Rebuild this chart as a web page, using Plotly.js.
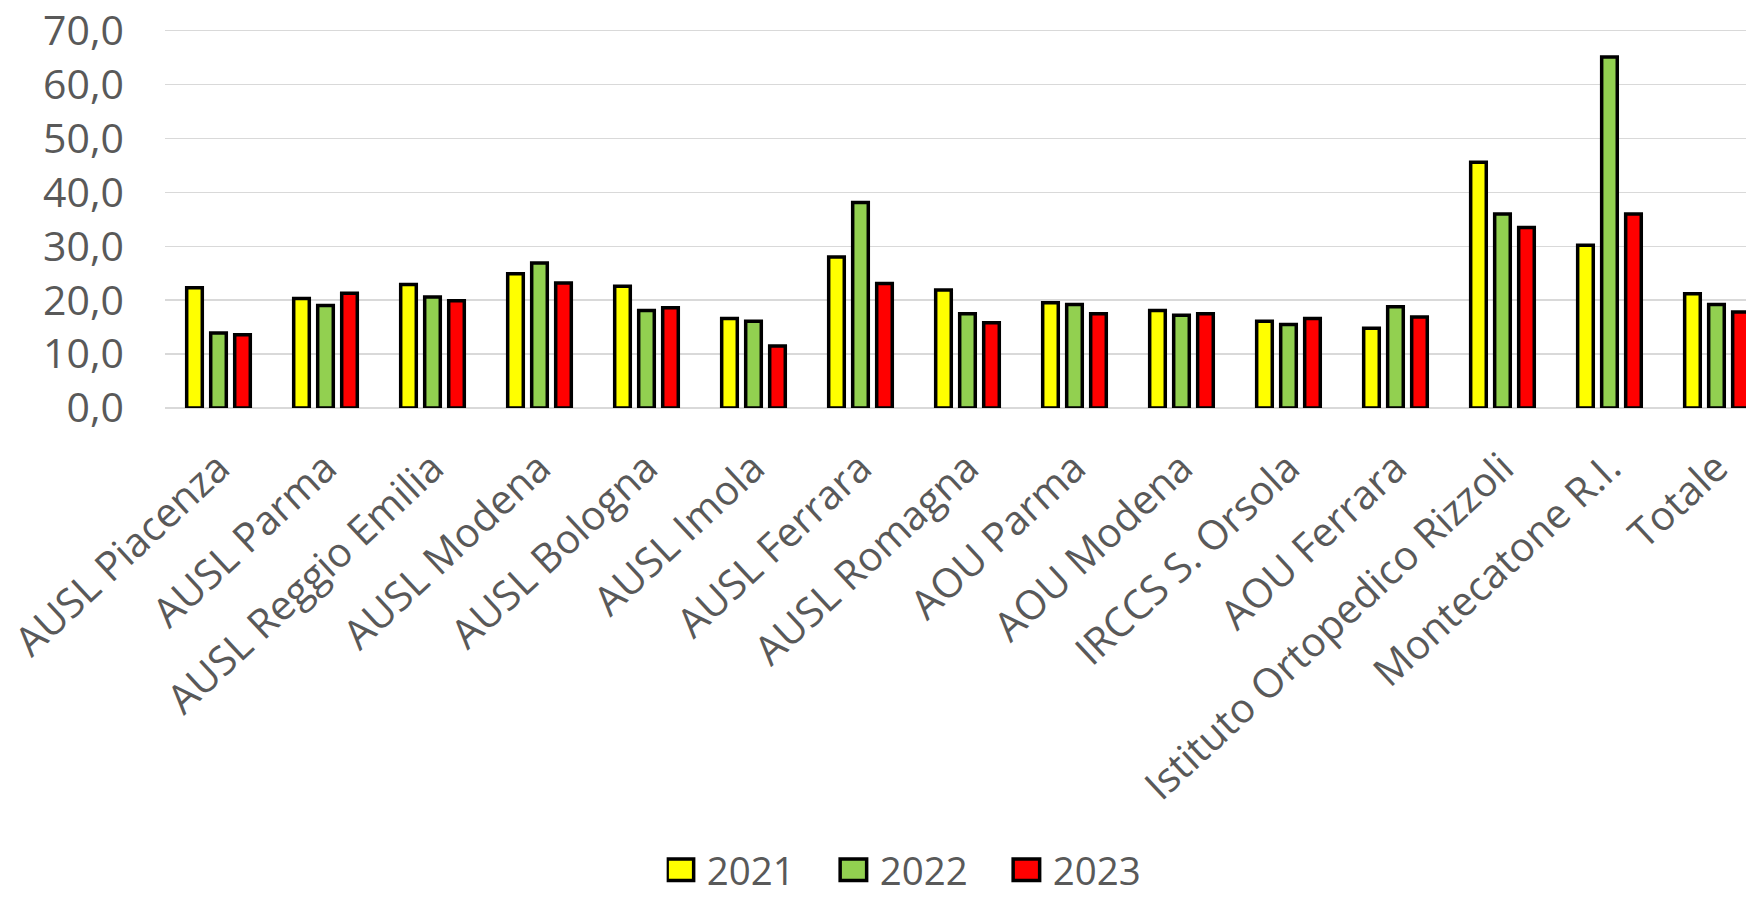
<!DOCTYPE html>
<html>
<head>
<meta charset="utf-8">
<script src="https://cdn.plot.ly/plotly-3.0.1.min.js"></script>
<style>
html, body { margin: 0; padding: 0; background: #ffffff; overflow: hidden; }
#chart { width: 1746px; height: 898px; }
</style>
</head>
<body>
<div id="chart"></div>
<script>
const categories = ['AUSL Piacenza','AUSL Parma','AUSL Reggio Emilia','AUSL Modena','AUSL Bologna','AUSL Imola','AUSL Ferrara','AUSL Romagna','AOU Parma','AOU Modena','IRCCS S. Orsola','AOU Ferrara','Istituto Ortopedico Rizzoli','Montecatone R.I.','Totale'];
const v2021 = [22.3, 20.3, 22.9, 24.9, 22.6, 16.6, 28.0, 21.9, 19.5, 18.1, 16.1, 14.8, 45.6, 30.2, 21.2];
const v2022 = [13.9, 19.0, 20.6, 26.9, 18.1, 16.1, 38.1, 17.5, 19.2, 17.2, 15.5, 18.8, 36.0, 65.1, 19.2];
const v2023 = [13.6, 21.3, 19.9, 23.2, 18.6, 11.5, 23.1, 15.8, 17.5, 17.5, 16.6, 16.9, 33.5, 36.0, 17.8];
const seriesNames = ['2021', '2022', '2023'];
const yTicks = [0, 10, 20, 30, 40, 50, 60, 70];

const colors = ['#FFFF00', '#92D050', '#FF0000'];
const values = [v2021, v2022, v2023];
const FONT = '"Open Sans", "Noto Sans", sans-serif';
const TXT = '#595959';

const traces = values.map((v, i) => ({
  type: 'bar',
  name: seriesNames[i],
  x: categories,
  y: v,
  marker: { color: colors[i], line: { color: '#000000', width: 3.5 } },
  hoverinfo: 'skip'
}));

const layout = {
  width: 1746,
  height: 898,
  margin: { l: 165, r: 0, t: 29.4, b: 490.3, pad: 0, autoexpand: false },
  paper_bgcolor: '#ffffff',
  plot_bgcolor: '#ffffff',
  separators: ',.',
  barmode: 'group',
  bargap: 0.327,
  bargroupgap: 0.35,
  font: { family: FONT, size: 41, color: TXT },
  xaxis: {
    type: 'category',
    range: [-0.5, 14.276],
    tickangle: -43,
    ticks: '',
    showgrid: false,
    showline: false,
    zeroline: false,
    ticklabelstandoff: 27,
    tickfont: { family: FONT, size: 40.5, color: TXT },
    automargin: false
  },
  yaxis: {
    range: [0, 70.3],
    tickvals: yTicks,
    tickformat: '.1f',
    ticks: '',
    showgrid: true,
    gridcolor: '#d9d9d9',
    gridwidth: 1.5,
    zeroline: true,
    zerolinecolor: '#d9d9d9',
    zerolinewidth: 1.5,
    showline: false,
    ticklabelstandoff: 40,
    tickfont: { family: FONT, size: 41, color: TXT },
    automargin: false
  },
  showlegend: true,
  legend: {
    orientation: 'h',
    x: 0.3173,
    xanchor: 'left',
    y: -1.2194,
    yanchor: 'middle',
    entrywidth: 128,
    entrywidthmode: 'pixels',
    font: { family: FONT, size: 38.5, color: TXT },
    bgcolor: 'rgba(0,0,0,0)',
    borderwidth: 0
  }
};

function enlargeLegend() {
  document.querySelectorAll('#chart .legendpoints path').forEach(p => {
    p.setAttribute('d', 'M7,10.75H-19.5V-10.75H7Z');
  });
}

Plotly.newPlot('chart', traces, layout, { displayModeBar: false, staticPlot: true }).then(gd => {
  enlargeLegend();
  gd.on('plotly_afterplot', enlargeLegend);
});
</script>
</body>
</html>
